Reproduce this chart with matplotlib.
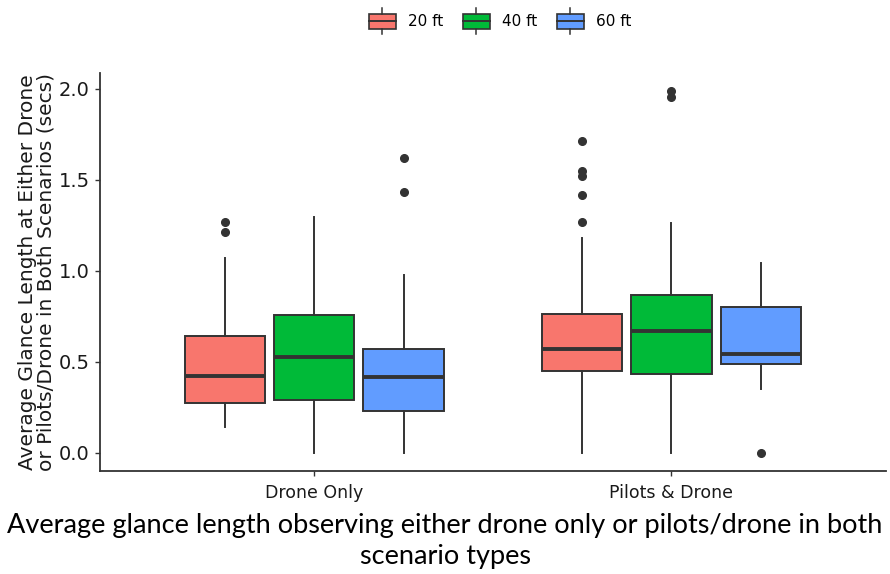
import matplotlib
matplotlib.use("Agg")
import matplotlib.pyplot as plt
from matplotlib.legend_handler import HandlerBase
from matplotlib.patches import Rectangle
from matplotlib.lines import Line2D

plt.rcParams["font.family"] = ["DejaVu Sans"]

scenarios = ["Drone Only", "Pilots & Drone"]
distances = ["20 ft", "40 ft", "60 ft"]
colors = ["#F8766D", "#00BA38", "#619CFF"]

# per scenario, per distance
q1 = [[0.271, 0.289, 0.228], [0.449, 0.433, 0.488]]
med = [[0.424, 0.524, 0.415], [0.570, 0.671, 0.545]]
q3 = [[0.641, 0.758, 0.570], [0.760, 0.864, 0.798]]
whislo = [[0.142, 0.0, 0.0], [0.0, 0.0, 0.349]]
whishi = [[1.068, 1.297, 0.974], [1.178, 1.262, 1.045]]
fliers = [[[1.268, 1.213], [], [1.620, 1.433]],
          [[1.715, 1.549, 1.521, 1.417, 1.267], [1.988, 1.955], [0.0]]]

caption = ("Average glance length observing either drone only or pilots/drone in both\n"
           "scenario types")
ylabel = "Average Glance Length at Either Drone\nor Pilots/Drone in Both Scenarios (secs)"

fig = plt.figure(figsize=(8.9, 5.74), dpi=100)
ax = fig.add_axes([100/890, 1-470.7/574, 785.7/890, (470.7-73)/574])

edge = "#333333"
for i in range(len(scenarios)):
    for j in range(len(distances)):
        pos = (i + 1) + (j - 1) * 0.25
        st = dict(med=med[i][j], q1=q1[i][j], q3=q3[i][j],
                  whislo=whislo[i][j], whishi=whishi[i][j], fliers=fliers[i][j])
        ax.bxp([st], positions=[pos], widths=0.225, patch_artist=True,
               showcaps=False,
               boxprops=dict(facecolor=colors[j], edgecolor=edge, linewidth=1.4),
               medianprops=dict(color=edge, linewidth=2.8),
               whiskerprops=dict(color=edge, linewidth=1.4),
               flierprops=dict(marker="o", markerfacecolor=edge, markeredgecolor=edge,
                               markersize=5.5),
               manage_ticks=False)

ax.set_xlim(0.4, 2.6)
ax.set_ylim(-0.0994, 2.0874)
ax.set_xticks([1, 2])
ax.set_xticklabels(scenarios, fontsize=12.5, color="#1a1a1a")
ax.set_yticks([0, 0.5, 1.0, 1.5, 2.0])
ax.set_yticklabels(["0.0", "0.5", "1.0", "1.5", "2.0"], fontsize=14, color="#1a1a1a")
ax.tick_params(axis="both", length=3.5, width=1, color="#333333")
ax.tick_params(axis="x", pad=6)
ax.tick_params(axis="y", pad=4)
for s in ["top", "right"]:
    ax.spines[s].set_visible(False)
for s in ["left", "bottom"]:
    ax.spines[s].set_linewidth(1.3)
    ax.spines[s].set_color("#333333")
ax.set_ylabel(ylabel, fontsize=14.5, color="#1a1a1a", linespacing=1.0, labelpad=2)


class BoxHandler(HandlerBase):
    def __init__(self, color):
        super().__init__()
        self.color = color

    def create_artists(self, legend, orig_handle, xdescent, ydescent, width, height,
                       fontsize, trans):
        bw = width
        bh = height * 1.15
        y0 = (height - bh) / 2 - ydescent
        x0 = -xdescent
        r = Rectangle((x0, y0), bw, bh, facecolor=self.color, edgecolor=edge,
                      linewidth=1.2, transform=trans)
        m = Line2D([x0, x0 + bw], [y0 + bh / 2] * 2, color=edge, linewidth=1.4,
                   transform=trans)
        cx = x0 + bw / 2
        w1 = Line2D([cx, cx], [y0 + bh, y0 + bh + 4], color=edge, linewidth=1.1,
                    transform=trans)
        w2 = Line2D([cx, cx], [y0, y0 - 4], color=edge, linewidth=1.1, transform=trans)
        return [r, m, w1, w2]


handles = [Rectangle((0, 0), 1, 1) for _ in distances]
leg = fig.legend(handles, distances, loc="center", bbox_to_anchor=(500/890, 1-22/574),
                 ncol=3, frameon=False, fontsize=11, handlelength=1.75, handleheight=0.9,
                 handletextpad=0.8, columnspacing=1.3,
                 handler_map={h: BoxHandler(c) for h, c in zip(handles, colors)})

fig.text(445/890, 1-541/574, caption, ha="center", va="center", fontsize=19.5,
         family=["Lato", "DejaVu Sans"], linespacing=1.32)

fig.savefig("out.png", dpi=100)
